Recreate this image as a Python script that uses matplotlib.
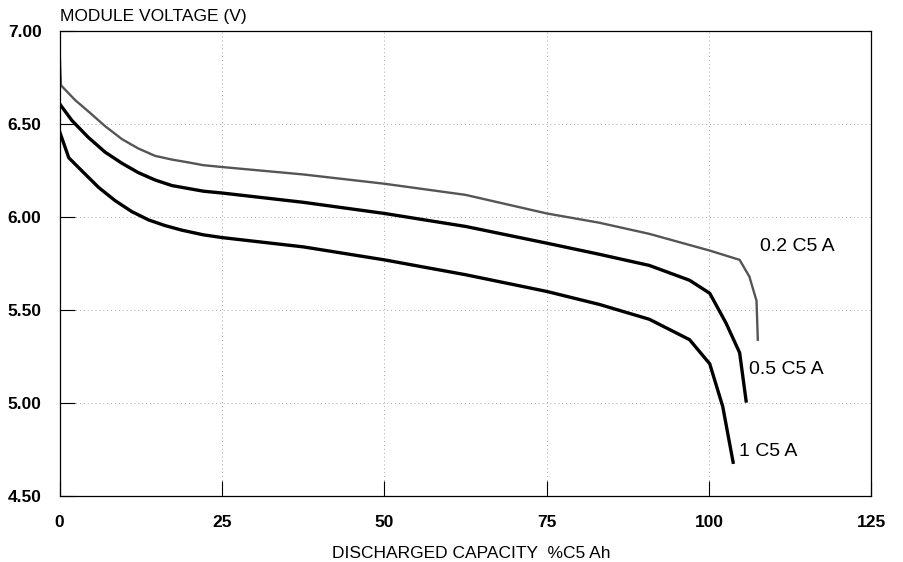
import matplotlib
matplotlib.use("Agg")  # headless plotting

import matplotlib.pyplot as plt

plt.rcParams['font.family'] = ['Liberation Sans', 'DejaVu Sans']

# discharge curves: capacity (%C5 Ah) vs module voltage (V)
cap_02 = [0, 0.2, 2.4, 4.4, 7.0, 9.6, 12.1, 14.7, 17.3, 19.8, 22.1, 25, 37.5, 50, 62.5, 75, 83.1,
          90.8, 100.1, 104.7, 106.2, 107.3, 107.5]
volt_02 = [6.88, 6.71, 6.63, 6.57, 6.49, 6.42, 6.37, 6.33, 6.31, 6.295, 6.28, 6.27, 6.23, 6.18, 6.12, 6.02, 5.97,
           5.91, 5.82, 5.77, 5.68, 5.55, 5.34]

cap_05 = [0, 1.9, 4.4, 7.0, 9.6, 12.1, 14.7, 17.3, 22.1, 25, 37.5, 50, 62.5, 75, 83.1,
          90.8, 97.0, 100.1, 102.6, 104.7, 105.7]
volt_05 = [6.61, 6.52, 6.43, 6.35, 6.29, 6.24, 6.20, 6.17, 6.14, 6.13, 6.08, 6.02, 5.95, 5.86, 5.80,
           5.74, 5.66, 5.59, 5.43, 5.27, 5.01]

cap_1 = [0, 1.4, 3.4, 6.0, 8.5, 11.1, 13.7, 16.2, 18.8, 22.1, 25, 37.5, 50, 62.5, 75, 83.1,
         90.8, 97.0, 100.1, 102.1, 103.7]
volt_1 = [6.46, 6.32, 6.25, 6.16, 6.09, 6.03, 5.985, 5.955, 5.93, 5.905, 5.89, 5.84, 5.77, 5.69, 5.60, 5.53,
          5.45, 5.34, 5.21, 4.98, 4.68]

labels = ['0.2 C5 A', '0.5 C5 A', '1 C5 A']
label_pos = [(107.8, 5.84), (106.2, 5.18), (104.6, 4.74)]

xticks = [0, 25, 50, 75, 100, 125]
yticks = [4.5, 5.0, 5.5, 6.0, 6.5, 7.0]

fig = plt.figure(figsize=(9.04, 5.62), dpi=100)
ax = fig.add_axes([0.066, 0.118, 0.898, 0.826])

ax.plot(cap_02, volt_02, color='#555555', lw=1.7)
ax.plot(cap_05, volt_05, color='black', lw=2.4)
ax.plot(cap_1, volt_1, color='black', lw=2.4)

for txt, (x, y) in zip(labels, label_pos):
    ax.text(x, y, txt, fontsize=14, va='center', ha='left')

ax.set_xlim(0, 125)
ax.set_ylim(4.5, 7.0)
ax.set_xticks(xticks)
ax.set_yticks(yticks)
ax.set_xticklabels([str(v) for v in xticks])
ax.set_yticklabels(['%.2f' % v for v in yticks])
ax.tick_params(direction='in', length=11, width=0.8, labelsize=12.5)
ax.tick_params(axis='x', pad=14)
ax.tick_params(axis='y', pad=13)
for lbl in ax.get_xticklabels() + ax.get_yticklabels():
    lbl.set_fontweight('bold')

ax.grid(True, color='#a8a8a8', linestyle=(0, (1, 3)), lw=0.7)
for s in ax.spines.values():
    s.set_linewidth(0.9)

fig.text(0.066, 0.971, 'MODULE VOLTAGE (V)', fontsize=12.5, ha='left', va='center')
fig.text(0.521, 0.016, 'DISCHARGED CAPACITY  %C5 Ah', fontsize=12.5, ha='center', va='center')

fig.savefig('out.png', dpi=100)
plt.close(fig)
